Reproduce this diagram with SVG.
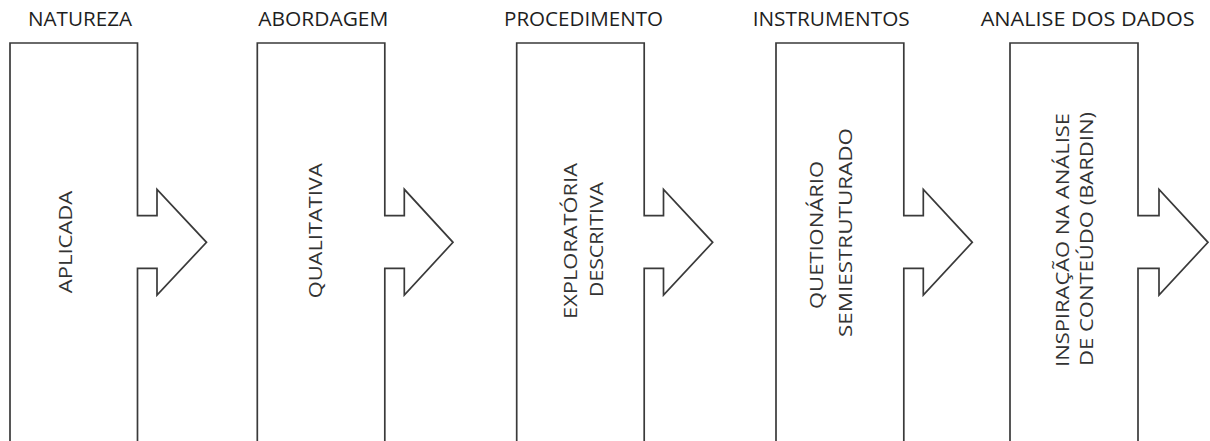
<svg xmlns="http://www.w3.org/2000/svg" width="1210" height="441" viewBox="0 0 1210 441">
<style>
.shape{fill:#ffffff;stroke:#3a3a3a;stroke-width:1.7;stroke-linejoin:miter}
.title{font-family:"Open Sans","Liberation Sans",sans-serif;font-size:19.5px;fill:#1e1e1e}
.label{font-family:"Open Sans","Liberation Sans",sans-serif;font-size:18px;fill:#333333;text-anchor:middle}
</style>
<rect width="1210" height="441" fill="#ffffff"/>
<g id="connectors"></g>
<g id="node-natureza">
<path class="shape" d="M10,446 L10,43 L137.5,43 L137.5,215.7 L157,215.7 L157,189.3 L206.5,242.3 L157,295 L157,268.3 L137.5,268.3 L137.5,446 Z"/>
<text class="title" x="28" y="26" textLength="104" lengthAdjust="spacingAndGlyphs">NATUREZA</text>
<text class="label" transform="translate(71.7,242) rotate(-90)" textLength="102.6" lengthAdjust="spacingAndGlyphs">APLICADA</text>
</g>
<g id="node-abordagem">
<path class="shape" d="M257.3,446 L257.3,43 L384.8,43 L384.8,215.7 L404.3,215.7 L404.3,189.3 L453,242.3 L404.3,295 L404.3,268.3 L384.8,268.3 L384.8,446 Z"/>
<text class="title" x="258.3" y="26" textLength="130" lengthAdjust="spacingAndGlyphs">ABORDAGEM</text>
<text class="label" transform="translate(321.7,230.8) rotate(-90)" textLength="135" lengthAdjust="spacingAndGlyphs">QUALITATIVA</text>
</g>
<g id="node-procedimento">
<path class="shape" d="M516.7,446 L516.7,43 L644.2,43 L644.2,215.7 L663.5,215.7 L663.5,189.3 L712.7,242.3 L663.5,295 L663.5,268.3 L644.2,268.3 L644.2,446 Z"/>
<text class="title" x="504" y="26" textLength="159" lengthAdjust="spacingAndGlyphs">PROCEDIMENTO</text>
<text class="label" transform="translate(576.7,241) rotate(-90)" textLength="156" lengthAdjust="spacingAndGlyphs">EXPLORATÓRIA</text>
<text class="label" transform="translate(603.3,239.5) rotate(-90)" textLength="115" lengthAdjust="spacingAndGlyphs">DESCRITIVA</text>
</g>
<g id="node-instrumentos">
<path class="shape" d="M776,446 L776,43 L903.8,43 L903.8,215.7 L923.3,215.7 L923.3,189.3 L972.3,242.3 L923.3,295 L923.3,268.3 L903.8,268.3 L903.8,446 Z"/>
<text class="title" x="752.7" y="26" textLength="157" lengthAdjust="spacingAndGlyphs">INSTRUMENTOS</text>
<text class="label" transform="translate(823.3,235) rotate(-90)" textLength="148" lengthAdjust="spacingAndGlyphs">QUETIONÁRIO</text>
<text class="label" transform="translate(851.5,232.5) rotate(-90)" textLength="209" lengthAdjust="spacingAndGlyphs">SEMIESTRUTURADO</text>
</g>
<g id="node-analise">
<path class="shape" d="M1010,446 L1010,43 L1138,43 L1138,215.7 L1159,215.7 L1159,189.3 L1208,242.3 L1159,295 L1159,268.3 L1138,268.3 L1138,446 Z"/>
<text class="title" x="980.7" y="26" textLength="214" lengthAdjust="spacingAndGlyphs">ANALISE DOS DADOS</text>
<text class="label" transform="translate(1069,240) rotate(-90)" textLength="254" lengthAdjust="spacingAndGlyphs">INSPIRAÇÃO NA ANÁLISE</text>
<text class="label" transform="translate(1093,239) rotate(-90)" textLength="254" lengthAdjust="spacingAndGlyphs">DE CONTEÚDO (BARDIN)</text>
</g>
</svg>
